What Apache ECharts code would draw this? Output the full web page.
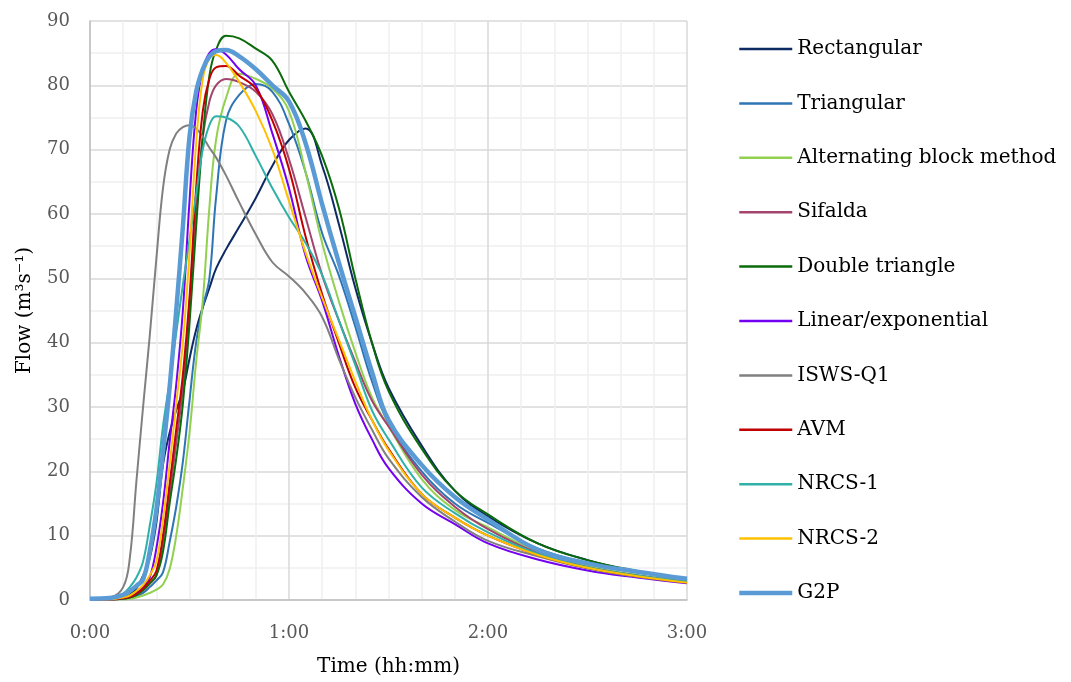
<!DOCTYPE html>
<html>
<head>
<meta charset="utf-8">
<script src="https://cdn.jsdelivr.net/npm/echarts@6/dist/echarts.min.js"></script>
<style>
html,body{margin:0;padding:0;background:#fff;}
#chart{width:1071px;height:682px;}
</style>
</head>
<body>
<div id="chart"></div>
<script>
// time in minutes
const times = [0,6,10,12,14,16,18,20,22,24,26,28,30,32,34,36,38,41,45,50,55,60,65,70,75,80,85,90,100,110,120,135,150,165,180];
const xTickLabels = ['0:00','1:00','2:00','3:00'];
const seriesNames = ['Rectangular','Triangular','Alternating block method','Sifalda','Double triangle','Linear/exponential','ISWS-Q1','AVM','NRCS-1','NRCS-2','G2P'];

const rectangular = [0.2,0.2,0.4,0.8,1.8,3.8,6.5,12,21,26,29.5,32.5,37.5,42,45.5,48.5,51.5,54.5,58,62.5,67.5,71.5,73.3,67.5,58.5,48.5,40,33,24,17,13,8.8,6.2,4.4,3.0];
const triangular = [0.1,0.1,0.2,0.3,0.6,1.1,2,3,4.3,9,14.5,21.5,31,40,45.5,50,62.5,74.5,78.5,80.2,79,74,66.5,57,50.5,42.5,34,27.5,20,15,12,8,5.7,4.3,3.1];
const alternatingBlock = [0.1,0.1,0.1,0.2,0.4,0.7,1.1,1.6,2.4,4.8,10,17.5,26,37,46.5,61,71.5,78,81.8,81,79.5,76,66.5,55.5,46.5,38.5,31.5,27,18.8,14,11.3,7.5,5.3,3.9,2.9];
const sifalda = [0.1,0.1,0.2,0.4,0.8,1.5,2.5,3.8,9,16.5,24.5,33,46,61,72,77.5,80,81,80.5,79,75.5,68.5,59.5,50.5,43.5,37,31,27,19.5,14.5,11,7.3,5.1,3.8,2.8];
const doubleTriangle = [0.1,0.1,0.2,0.4,0.8,1.5,2.6,3.8,7.5,15,22,30.5,43,58,72,81.5,85.5,87.7,87.3,85.7,83.8,79,74.5,69,61,50,40,32.5,23.5,17,13.3,8.8,6.2,4.5,3.2];
const linearExp = [0.1,0.1,0.3,0.6,1.2,2,3.5,8,15,24.5,33.5,45,62,76,82.5,85,85.6,84.8,82.5,80,72.5,64,53.5,46.5,38,30.5,25,20.5,15,11.8,8.8,6.3,4.6,3.5,2.6];
const iswsQ1 = [0.2,0.4,2,6.5,18.5,30,41,53,64,70,72.5,73.5,73.8,73.3,72,70.3,68.8,66,61.8,56.8,52.5,50.3,47.7,44,37.5,31.5,26.5,22,16,12.2,9.2,6.8,4.9,3.6,2.7];
const avm = [0.1,0.1,0.3,0.5,1,1.8,3,4.5,10,18,26.5,35,47,64,76,81,82.8,83,81.5,79.5,74.5,67,56.5,47.5,40,33,28,23.5,16.5,12.8,10,7,5,3.7,2.7];
const nrcs1 = [0.2,0.3,1,2,3.5,6,11.5,18,27,34,41.5,49,56,63,70,73.8,75.2,75,73.6,69,64,59.5,55.5,50.5,43.5,36.5,29.5,25,17.5,13.5,10.5,7.2,5.1,3.8,2.8];
const nrcs2 = [0.1,0.1,0.4,0.7,1.4,2.3,3.8,6,12.5,21,30.5,40,54,71,81,84.2,84.7,83.5,80.5,76,70,62,54,47,40.5,34,28,23.3,16.5,12.8,10,7,5,3.7,2.7];
const g2p = [0.2,0.3,0.8,1.4,2.2,3.2,7.5,14,23,33,45,58,72,79,82.5,84.5,85.3,85.5,84.5,82.5,80,77.5,71,61.5,52.5,44,35.5,28,21,16,12.5,7.8,5.7,4.4,3.3];

const seriesValues = [rectangular,triangular,alternatingBlock,sifalda,doubleTriangle,linearExp,iswsQ1,avm,nrcs1,nrcs2,g2p];
const seriesColors = ['#0E2A62','#2E75B6','#92D050','#A3446C','#0A6B0A','#7400F2','#808080','#C00000','#2FB1A8','#FFC000','#5B9BD5'];
const seriesWidths = [2,2,2,2,2,2,2,2,2,2,4.5];

const FF = 'DejaVu Serif';
const chart = echarts.init(document.getElementById('chart'), null, {renderer:'canvas'});
const option = {
  animation: false,
  backgroundColor: '#ffffff',
  grid: {left: 90, right: 384, top: 21, bottom: 82, containLabel: false},
  legend: {
    orient: 'vertical',
    left: 732,
    top: 34,
    itemWidth: 53,
    itemHeight: 20,
    itemGap: 34.4,
    itemStyle: {opacity: 0},
    textStyle: {fontFamily: FF, fontSize: 20, color: '#000'},
    data: seriesNames.map(function(n, i){
      return {name: n, lineStyle: {width: i === 10 ? 4.5 : 2.5, color: seriesColors[i]}};
    })
  },
  xAxis: {
    type: 'value', min: 0, max: 180, interval: 60,
    name: 'Time (hh:mm)', nameLocation: 'middle', nameGap: 57,
    nameTextStyle: {fontFamily: FF, fontSize: 20, color: '#000'},
    axisLine: {show: true, lineStyle: {color: '#BFBFBF', width: 1.5}},
    axisTick: {show: false},
    axisLabel: {fontFamily: FF, fontSize: 18, color: '#595959', margin: 24,
      formatter: function(v){ return xTickLabels[Math.round(v/60)]; }},
    splitLine: {show: true, lineStyle: {color: '#D9D9D9', width: 1.5}},
    minorTick: {show: false, splitNumber: 6},
    minorSplitLine: {show: true, lineStyle: {color: '#F0F0F0', width: 1.5}}
  },
  yAxis: {
    type: 'value', min: 0, max: 90, interval: 10,
    name: 'Flow (m³s⁻¹)', nameLocation: 'middle', nameGap: 55,
    nameTextStyle: {fontFamily: FF, fontSize: 20, color: '#000'},
    axisLine: {show: true, lineStyle: {color: '#BFBFBF', width: 1.5}},
    axisTick: {show: false},
    axisLabel: {fontFamily: FF, fontSize: 18, color: '#595959', margin: 20},
    splitLine: {show: true, lineStyle: {color: '#D9D9D9', width: 1.5}},
    minorTick: {show: false, splitNumber: 2},
    minorSplitLine: {show: true, lineStyle: {color: '#F0F0F0', width: 1.5}}
  },
  series: seriesNames.map(function(name, i){
    return {
      name: name,
      type: 'line',
      symbol: 'none',
      showSymbol: false,
      smooth: 0.4,
      z: 2 + i,
      itemStyle: {color: seriesColors[i]},
      lineStyle: {color: seriesColors[i], width: seriesWidths[i]},
      data: times.map(function(t, k){ return [t, seriesValues[i][k]]; })
    };
  })
};
chart.setOption(option);
</script>
</body>
</html>
